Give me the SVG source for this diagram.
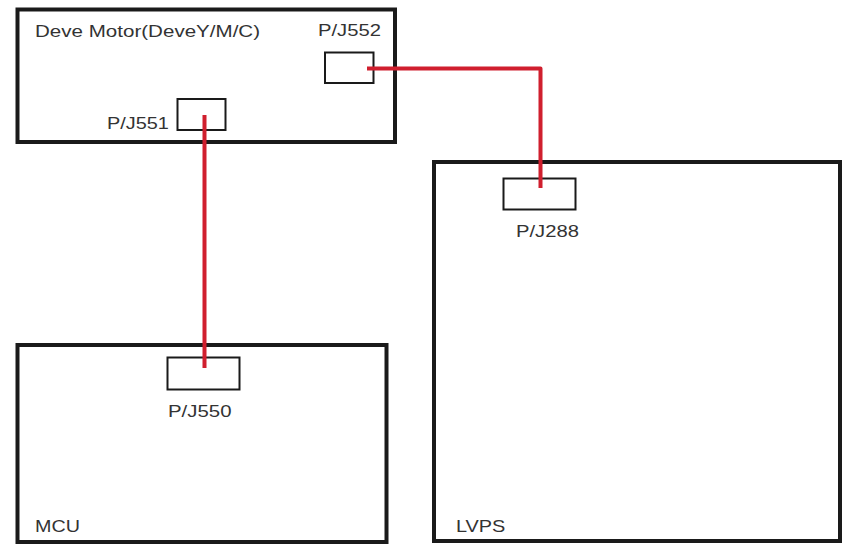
<svg xmlns="http://www.w3.org/2000/svg" width="846" height="545" viewBox="0 0 846 545">
<style>
.board{fill:#fff;stroke:#1a1a1a;stroke-width:4}
.conn{fill:#fff;stroke:#1a1a1a;stroke-width:2}
.lbl{font-family:"Liberation Sans",Arial,sans-serif;font-size:17px;fill:#333}
.wire{fill:none;stroke:#d01f2e;stroke-width:4;stroke-linejoin:round}
</style>
<rect width="846" height="545" fill="#fff"/>
<g id="deve-motor">
<rect class="board" x="17.5" y="9.5" width="377.5" height="132.5"/>
<text class="lbl" transform="matrix(1.21 0 0 1 35 37)">Deve Motor(DeveY/M/C)</text>
</g>
<g id="pj552">
<rect class="conn" x="325" y="52.5" width="48.5" height="30.5"/>
<text class="lbl" transform="matrix(1.19 0 0 1 318 36)">P/J552</text>
</g>
<g id="pj551">
<rect class="conn" x="177.5" y="99" width="48" height="31"/>
<text class="lbl" transform="matrix(1.17 0 0 1 107 129)">P/J551</text>
</g>
<g id="lvps">
<rect class="board" x="434" y="162" width="406" height="379"/>
<text class="lbl" transform="matrix(1.17 0 0 1 456 532)">LVPS</text>
</g>
<g id="pj288">
<rect class="conn" x="503.5" y="178.5" width="72" height="31"/>
<text class="lbl" transform="matrix(1.19 0 0 1 516 237)">P/J288</text>
</g>
<g id="mcu">
<rect class="board" x="17.5" y="345" width="369" height="197"/>
<text class="lbl" transform="matrix(1.16 0 0 1 35 532)">MCU</text>
</g>
<g id="pj550">
<rect class="conn" x="167.5" y="357.5" width="72" height="32"/>
<text class="lbl" transform="matrix(1.2 0 0 1 168 417)">P/J550</text>
</g>
<g id="connectors">
<path class="wire" d="M367,68.5 H540.5 V188"/>
<path class="wire" d="M204.5,115 V368"/>
</g>
</svg>
